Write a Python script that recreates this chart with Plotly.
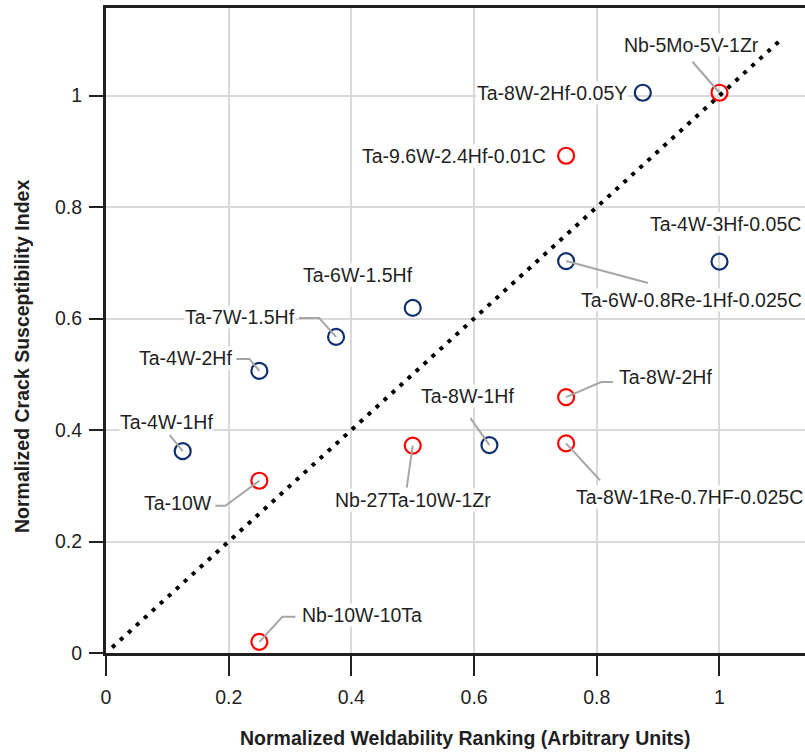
import plotly.graph_objects as go

# ---------------- data ----------------
alloys = [
    "Nb-5Mo-5V-1Zr", "Ta-8W-2Hf-0.05Y", "Ta-9.6W-2.4Hf-0.01C", "Ta-4W-3Hf-0.05C",
    "Ta-6W-0.8Re-1Hf-0.025C", "Ta-6W-1.5Hf", "Ta-7W-1.5Hf", "Ta-4W-2Hf",
    "Ta-4W-1Hf", "Ta-10W", "Nb-27Ta-10W-1Zr", "Ta-8W-1Hf", "Ta-8W-2Hf",
    "Ta-8W-1Re-0.7HF-0.025C", "Nb-10W-10Ta",
]
weldability = [1.0, 0.875, 0.75, 1.0, 0.75, 0.5, 0.375, 0.25, 0.125, 0.25, 0.5, 0.625, 0.75, 0.75, 0.25]
crack_index = [1.005, 1.005, 0.892, 0.702, 0.703, 0.619, 0.567, 0.506, 0.362, 0.309, 0.372, 0.373, 0.459, 0.376, 0.020]
group = ["red", "blue", "red", "blue", "blue", "blue", "blue", "blue", "blue", "red", "red", "blue", "red", "red", "red"]

tick_vals = [0, 0.2, 0.4, 0.6, 0.8, 1.0]
tick_text = ["0", "0.2", "0.4", "0.6", "0.8", "1"]
diag = [0.01, 1.1]

x_title = "Normalized Weldability Ranking (Arbitrary Units)"
y_title = "Normalized Crack Susceptibility Index"

# label placement (screen pixel offsets from the marker) -- layout, not data
label_pos = {
    "Nb-5Mo-5V-1Zr": (-28, -48, "center", [(0, 0), (-27, -31)]),
    "Ta-8W-2Hf-0.05Y": (-15, 0, "right", None),
    "Ta-9.6W-2.4Hf-0.01C": (-19, 0, "right", None),
    "Ta-4W-3Hf-0.05C": (6, -38, "center", None),
    "Ta-6W-0.8Re-1Hf-0.025C": (14, 39, "left", [(0, 0), (82, 22)]),
    "Ta-6W-1.5Hf": (-55, -33, "center", None),
    "Ta-7W-1.5Hf": (-40, -20, "right", [(-37, -19), (-17, -19), (0, 0)]),
    "Ta-4W-2Hf": (-26, -13, "right", [(-23, -12), (-10, -12), (0, 0)]),
    "Ta-4W-1Hf": (-16, -29, "center", [(-13, -16), (0, 0)]),
    "Ta-10W": (-46, 22, "right", [(-44, 25), (-34, 25), (0, 0)]),
    "Nb-27Ta-10W-1Zr": (0, 54, "center", [(0, 0), (-6, 42)]),
    "Ta-8W-1Hf": (-22, -49, "center", [(-19, -27), (0, 0)]),
    "Ta-8W-2Hf": (52, -20, "left", [(0, 0), (35, -15), (47, -15)]),
    "Ta-8W-1Re-0.7HF-0.025C": (123, 54, "center", [(0, 0), (34, 37)]),
    "Nb-10W-10Ta": (42, -27, "left", [(0, 0), (23, -25), (36, -25)]),
}

COLORS = {"red": "#ff0000", "blue": "#0f2f6e"}
FONT = "Liberation Sans, Arial, sans-serif"
TXT = "#1f1f1f"
AX = "#231f20"

W, H = 805, 753
ML, MR, MT, MB = 106, 0, 8, 100
XR = [0, 1.1394]
YR = [0, 1.157]
PW, PH = W - ML - MR, H - MT - MB
SX = PW / (XR[1] - XR[0])
SY = PH / (YR[1] - YR[0])

fig = go.Figure()

fig.add_trace(go.Scatter(
    x=diag, y=diag, mode="lines",
    line=dict(color="black", width=4, dash="4px,6.8px"),
    hoverinfo="skip", showlegend=False,
))

for g in ["blue", "red"]:
    xs = [x for x, gg in zip(weldability, group) if gg == g]
    ys = [y for y, gg in zip(crack_index, group) if gg == g]
    fig.add_trace(go.Scatter(
        x=xs, y=ys, mode="markers",
        marker=dict(symbol="circle-open", size=16, color=COLORS[g], line=dict(width=2.2, color=COLORS[g])),
        showlegend=False,
    ))

shapes = []
annotations = []
for name, x, y in zip(alloys, weldability, crack_index):
    dx, dy, anchor, leader = label_pos[name]
    annotations.append(dict(
        x=x, y=y, xref="x", yref="y", text=name, showarrow=False,
        xanchor=anchor, yanchor="middle", xshift=dx, yshift=-dy,
        font=dict(family=FONT, size=19.5, color=TXT),
        bgcolor="white", borderpad=0,
    ))
    if leader:
        path = ""
        for i, (px, py) in enumerate(leader):
            path += ("M" if i == 0 else "L") + f"{x + px / SX},{y - py / SY} "
        shapes.append(dict(type="path", path=path, xref="x", yref="y",
                           line=dict(color="#a6a6a6", width=2), layer="above"))

annotations.append(dict(
    x=(465 - ML) / PW, y=-(738 - (MT + PH)) / PH, xref="paper", yref="paper",
    text=f"<b>{x_title}</b>", showarrow=False,
    xanchor="center", yanchor="middle", font=dict(family=FONT, size=19.5, color=TXT),
))
annotations.append(dict(
    x=-(ML - 22) / PW, y=(MT + PH - 357) / PH, xref="paper", yref="paper",
    text=f"<b>{y_title}</b>", showarrow=False, textangle=-90,
    xanchor="center", yanchor="middle", font=dict(family=FONT, size=19.5, color=TXT),
))

fig.update_layout(
    width=W, height=H, margin=dict(l=ML, r=MR, t=MT, b=MB),
    paper_bgcolor="white", plot_bgcolor="white",
    shapes=shapes, annotations=annotations, showlegend=False,
    font=dict(family=FONT, color=TXT),
)
fig.update_xaxes(
    range=XR, tickvals=tick_vals, ticktext=tick_text,
    showgrid=True, gridcolor="#d9d9d9", gridwidth=2, zeroline=False,
    showline=True, linecolor=AX, linewidth=3, mirror=True,
    ticks="outside", ticklen=20, tickwidth=1.5, tickcolor=AX,
    tickfont=dict(family=FONT, size=19.5, color=TXT), ticklabelstandoff=5,
)
fig.update_yaxes(
    range=YR, tickvals=tick_vals, ticktext=tick_text,
    showgrid=True, gridcolor="#d9d9d9", gridwidth=2, zeroline=False,
    showline=True, linecolor=AX, linewidth=3, mirror=False,
    ticks="outside", ticklen=14, tickwidth=1.5, tickcolor=AX,
    tickfont=dict(family=FONT, size=19.5, color=TXT), ticklabelstandoff=3,
)

fig.write_html("out.html")
